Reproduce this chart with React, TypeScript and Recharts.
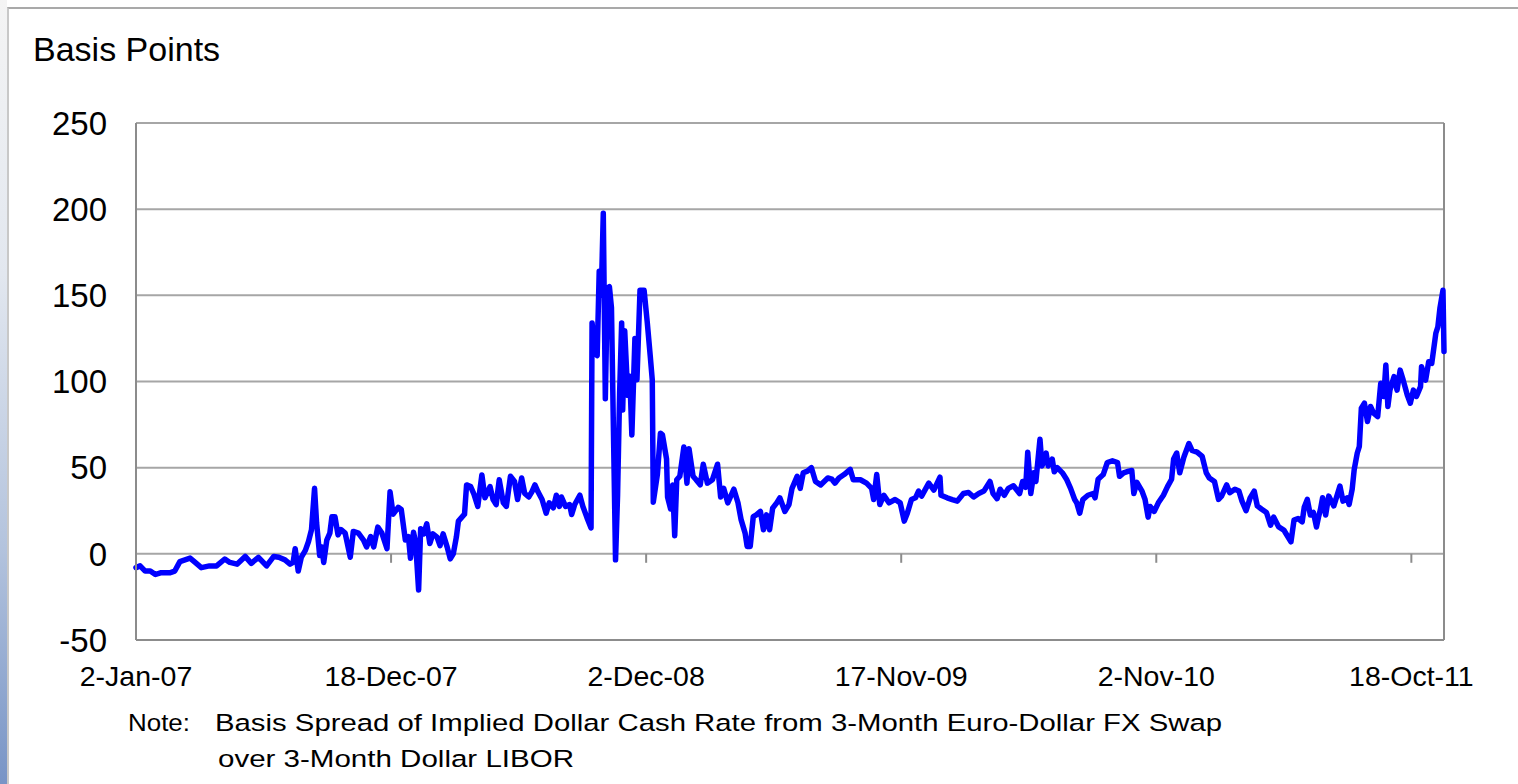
import React from 'react';
import { LineChart, Line, XAxis, YAxis, CartesianGrid, ReferenceLine } from 'recharts';

// [business-day index since 2-Jan-07, basis points]
const obs2007: [number, number][] = [
  [0, -8], [4, -7], [9, -10], [14, -10], [19, -12], [24, -11], [29, -11], [33, -11], [38, -10], [43, -4.5],
  [48, -3.5], [53, -2.5], [58, -5], [64, -8], [72, -7], [79, -7], [87, -3], [92, -5], [99, -6], [107, -1.5],
  [113, -5.5], [120, -2], [128, -7], [135, -1.5], [140, -2], [146, -3.5], [151, -6], [154, -5], [156, 3], [159, -10],
  [162, -2], [166, 2], [169, 7], [172, 14], [175, 38], [177, 18], [180, -1], [182, 4], [184, -5], [187, 8],
  [190, 12], [192, 21.5], [195, 21.5], [198, 11], [201, 14], [205, 12], [210, -2], [213, 13], [218, 12], [223, 8],
  [226, 4], [230, 10], [233, 4], [237, 15.5], [241, 12], [246, 3], [249, 36], [252, 23], [257, 27], [260, 25.7],
];

const obs2008: [number, number][] = [
  [264, 8], [267, 10], [269, -2.5], [272, 12.5], [274, 7], [277, -21], [279, 14.5], [282, 11.6], [285, 17.4], [288, 6],
  [291, 11.6], [295, 9.7], [298, 4.8], [301, 11.6], [305, 3.9], [308, -2.9], [311, 0], [314, 9.7], [316, 19], [319, 21],
  [322, 23], [324, 40], [328, 39], [331, 35], [335, 27.5], [339, 45.8], [342, 32.5], [347, 39], [350, 31.5], [353, 28.6],
  [356, 43], [360, 29.6], [363, 27.5], [367, 45], [371, 42], [374, 31.5], [378, 44], [381, 35], [385, 33], [388, 36],
  [391, 40], [394, 36], [398, 31.5], [402, 23.6], [405, 29.6], [409, 26.7], [412, 34], [415, 27.5], [417, 33], [421, 27.5],
  [425, 28.6], [427, 22.8], [430, 28.6], [435, 34], [438, 27.5], [442, 21], [446, 15], [447, 134], [450, 117], [452, 115],
  [454, 164], [456, 150], [458, 197.6], [460, 90], [462, 154], [464, 155], [466, 143], [470, -3.5], [472, 34], [474, 93],
  [476, 134], [477, 83.5], [479, 129.5], [482, 92], [484, 103], [486, 69], [489, 125], [491, 101], [494, 153], [498, 153],
  [501, 135], [504, 115], [506, 101], [507, 30], [511, 46],
];

const obs2009: [number, number][] = [
  [514, 70], [516, 69], [520, 55], [521, 33], [524, 26], [526, 40], [528, 10.5], [530, 43], [533, 45], [537, 62],
  [540, 41], [542, 61], [546, 45], [549, 43], [553, 40], [556, 52], [560, 41], [565, 43], [570, 52], [573, 33],
  [576, 38], [580, 29.6], [586, 37.5], [590, 29.6], [593, 20], [597, 12], [599, 4.3], [602, 4.3], [605, 21.6], [608, 22.6],
  [612, 24.6], [615, 14], [618, 22.6], [621, 14], [624, 26.5], [628, 29.6], [631, 32.5], [636, 24.6], [640, 28.6], [643, 38],
  [648, 45], [651, 38], [654, 47], [658, 48], [662, 50], [666, 42], [671, 40], [678, 44], [682, 43.3], [685, 41],
  [689, 44], [694, 46], [700, 49], [703, 43], [710, 43], [716, 41], [721, 38], [723, 31.5], [726, 46], [729, 28.6],
  [733, 34], [738, 29.6], [744, 31.5], [749, 29.6], [753, 19], [756, 23.6], [760, 31.5], [764, 32.5],
];

const obs2010: [number, number][] = [
  [767, 36.4], [770, 33.5], [777, 41], [782, 37], [788, 44.5], [789, 34], [795, 32.5], [800, 31.5], [805, 30.6], [811, 35],
  [816, 35.6], [821, 33], [826, 35], [831, 36.4], [837, 42], [840, 35], [844, 32], [847, 37.5], [851, 34], [855, 38],
  [860, 39.5], [866, 35], [869, 42], [872, 38.6], [874, 59], [877, 35], [880, 47], [882, 42], [886, 66.5], [888, 51],
  [892, 58.5], [894, 51], [898, 55], [900, 47.6], [903, 50], [908, 47], [912, 43.3], [916, 38], [920, 31.5], [922, 29.6],
  [925, 23.6], [928, 31.5], [933, 34], [938, 35], [940, 32.5], [943, 43.3], [948, 46], [952, 53], [957, 54], [962, 53],
  [964, 45], [968, 47], [973, 48], [976, 48.4], [978, 35], [981, 41.5], [986, 36.4], [989, 31.5], [992, 21.3], [994, 27.5],
  [998, 24.6], [1002, 29.6], [1007, 34], [1011, 39], [1015, 43.3],
];

const obs2011: [number, number][] = [
  [1017, 55], [1020, 58.5], [1023, 47], [1027, 56], [1032, 64], [1035, 60], [1040, 59], [1045, 56.5], [1049, 47], [1052, 44],
  [1057, 42], [1061, 31.6], [1064, 33.5], [1069, 40], [1072, 35.5], [1077, 37.5], [1081, 36.4], [1084, 30.6], [1088, 25], [1092, 32.5],
  [1096, 36.4], [1099, 27.8], [1103, 26], [1108, 24], [1112, 16.6], [1115, 21.3], [1120, 15.6], [1125, 13.8], [1129, 9.9], [1132, 7],
  [1135, 19.6], [1139, 20.5], [1143, 18.6], [1145, 27], [1148, 31.6], [1151, 22.5], [1154, 24], [1157, 15.6], [1159, 21.3], [1161, 26],
  [1163, 32.5], [1166, 22.5], [1169, 33.5], [1174, 27.8], [1177, 33.5], [1180, 39.3], [1183, 30.6], [1187, 32.5], [1189, 28.6], [1192, 37.5],
  [1194, 48.9], [1197, 58.5], [1199, 62.3], [1201, 84.5], [1204, 87.4], [1207, 76.8], [1210, 85.5], [1213, 81.6], [1217, 79.7], [1220, 99],
  [1223, 91.3], [1225, 109.6], [1227, 85.5], [1229, 95], [1233, 102.8], [1236, 95], [1239, 106.6], [1242, 100.8], [1246, 92.2], [1249, 87.4],
  [1252, 95], [1255, 91.3], [1259, 97], [1260, 108.6], [1264, 100.8], [1267, 111.5], [1270, 110.5], [1274, 128], [1276, 131.8], [1278, 142.5],
  [1281, 153], [1282, 117.4],
];

const tickDays = [0, 250, 500, 750, 1000, 1250];
const tickLabels = ['2-Jan-07', '18-Dec-07', '2-Dec-08', '17-Nov-09', '2-Nov-10', '18-Oct-11'];
const yTicks = [-50, 0, 50, 100, 150, 200, 250];
const lastDay = 1282;

const yTitle = 'Basis Points';
const noteLabel = 'Note:';
const noteLine1 = 'Basis Spread of Implied Dollar Cash Rate from 3-Month Euro-Dollar FX Swap';
const noteLine2 = 'over 3-Month Dollar LIBOR';

const data = [...obs2007, ...obs2008, ...obs2009, ...obs2010, ...obs2011].map(([day, bp]) => ({ day, bp }));

const FONT = '"Liberation Sans", Arial, Helvetica, sans-serif';
const GRID = '#a6a6a6';
const BORDER = '#8c8c8c';

export default function App() {
  const labelFor = (d: number) => {
    const k = tickDays.indexOf(d);
    return k >= 0 ? tickLabels[k] : '';
  };
  return (
    <div style={{ position: 'absolute', left: 0, top: 0, width: 1518, height: 784, overflow: 'hidden', background: '#fff', fontFamily: FONT }}>
      <div style={{ position: 'absolute', left: 0, top: 0, width: 7, height: 784, background: 'linear-gradient(to bottom, #f4f4f4 0%, #e2e7ef 35%, #b3c3dd 70%, #7894c6 100%)' }} />
      <div style={{ position: 'absolute', left: 7, top: 7, width: 1520, height: 800, borderTop: '2px solid #a9a9a9', borderLeft: '2px solid #c8c8c8', boxSizing: 'border-box' }} />
      <div style={{ position: 'absolute', left: 0, top: 0 }}>
        <LineChart width={1518} height={784} data={data} margin={{ top: 123, right: 74, bottom: 104, left: 36 }}>
          <CartesianGrid vertical={false} horizontal stroke={GRID} strokeWidth={2} />
          <XAxis
            dataKey="day"
            type="number"
            domain={[0, lastDay]}
            ticks={tickDays}
            interval={0}
            height={40}
            tickLine={false}
            tickSize={0}
            tickMargin={26}
            axisLine={{ stroke: BORDER, strokeWidth: 2 }}
            tickFormatter={labelFor}
            tick={{ fill: '#000', fontSize: 28.5, fontFamily: FONT }}
          />
          <YAxis
            type="number"
            domain={[-50, 250]}
            ticks={yTicks}
            interval={0}
            width={100}
            tickLine={false}
            tickSize={0}
            tickMargin={29}
            axisLine={{ stroke: BORDER, strokeWidth: 2 }}
            tick={{ fill: '#000', fontSize: 33, fontFamily: FONT }}
          />
          <ReferenceLine x={lastDay} stroke={BORDER} strokeWidth={2} />
          {tickDays.slice(1).map((d) => (
            <ReferenceLine key={d} segment={[{ x: d, y: 0 }, { x: d, y: -5.2 }]} stroke={BORDER} strokeWidth={2} />
          ))}
          <Line
            type="linear"
            dataKey="bp"
            stroke="#0000ff"
            strokeWidth={5.5}
            dot={false}
            activeDot={false}
            strokeLinejoin="round"
            strokeLinecap="round"
            isAnimationActive={false}
          />
        </LineChart>
      </div>
      <svg width={1518} height={784} style={{ position: 'absolute', left: 0, top: 0, pointerEvents: 'none' }}>
        <text x={33} y={61} fontSize={34} fontFamily={FONT} fill="#000">{yTitle}</text>
        <text x={128} y={731} fontSize={24.5} fontFamily={FONT} fill="#000" textLength={62} lengthAdjust="spacingAndGlyphs">{noteLabel}</text>
        <text x={215} y={731} fontSize={24.5} fontFamily={FONT} fill="#000" textLength={1007} lengthAdjust="spacingAndGlyphs">{noteLine1}</text>
        <text x={218} y={767} fontSize={24.5} fontFamily={FONT} fill="#000" textLength={356} lengthAdjust="spacingAndGlyphs">{noteLine2}</text>
      </svg>
    </div>
  );
}
